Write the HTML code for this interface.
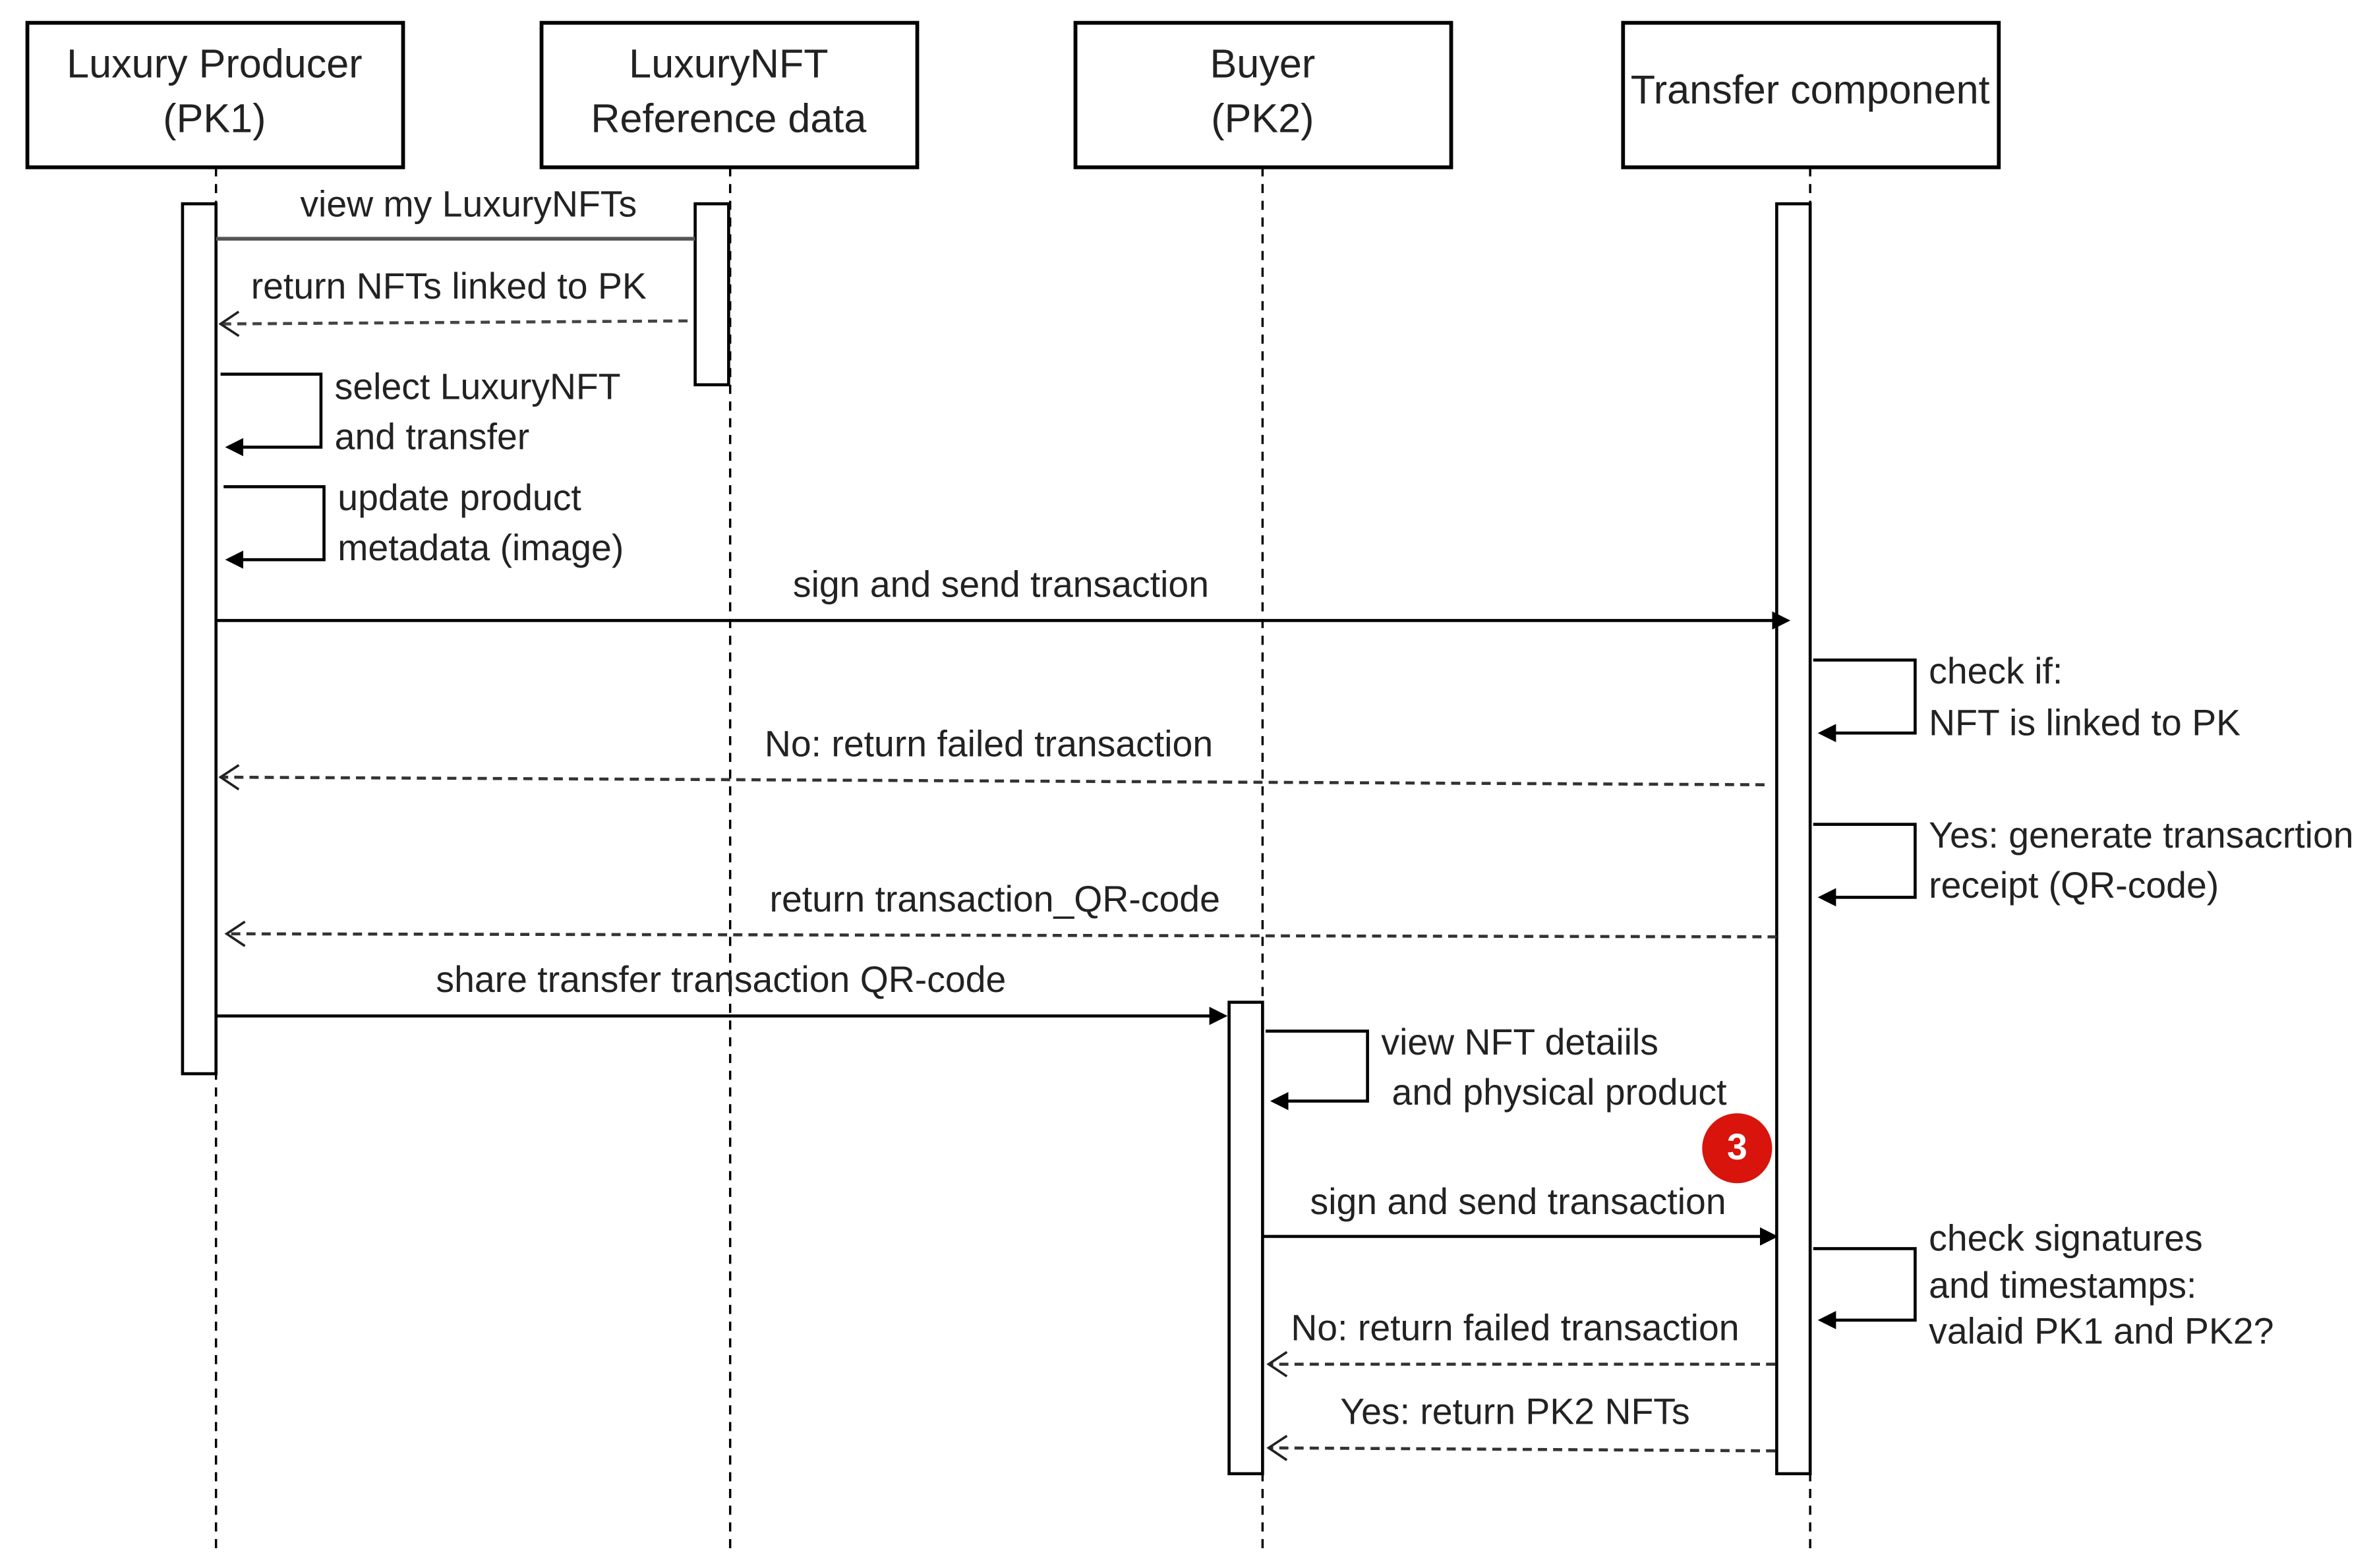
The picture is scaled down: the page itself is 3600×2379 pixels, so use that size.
<!DOCTYPE html>
<html><head><meta charset="utf-8"><style>
html,body{margin:0;padding:0;background:#fff;}
svg{display:block;}
text{font-family:"Liberation Sans",Arial,sans-serif;fill:#222;dominant-baseline:middle;}
.h{font-size:26.5px;text-anchor:middle;}
.l{font-size:24px;}
.c{text-anchor:middle;}
</style></head><body>
<svg width="3600" height="2379" viewBox="0 0 1560 1031" preserveAspectRatio="none" xmlns="http://www.w3.org/2000/svg">
<defs>
<marker id="f" markerWidth="12" markerHeight="12" refX="10" refY="6" orient="auto" markerUnits="userSpaceOnUse"><path d="M0,0 L12,6 L0,12 z" fill="#000"/></marker>
<marker id="o" markerWidth="16" markerHeight="20" refX="13" refY="9" orient="auto" markerUnits="userSpaceOnUse"><path d="M1,1 L13,9 L1,17" fill="none" stroke="#222" stroke-width="1.6"/></marker>
</defs>
<g fill="#fff" stroke="#000" stroke-width="2.5">
<rect x="18" y="15" width="247" height="95"/>
<rect x="356" y="15" width="247" height="95"/>
<rect x="707" y="15" width="247" height="95"/>
<rect x="1067" y="15" width="247" height="95"/>
</g>
<text class="h" x="141" y="44">Luxury Producer</text>
<text class="h" x="141" y="80">(PK1)</text>
<text class="h" x="479" y="44">LuxuryNFT</text>
<text class="h" x="479" y="80">Reference data</text>
<text class="h" x="830" y="44">Buyer</text>
<text class="h" x="830" y="80">(PK2)</text>
<text class="h" x="1190" y="61">Transfer component</text>
<g stroke="#000" stroke-width="1.5" stroke-dasharray="6,5">
<line x1="142" y1="110" x2="142" y2="1020"/>
<line x1="480" y1="110" x2="480" y2="1020"/>
<line x1="830" y1="110" x2="830" y2="1020"/>
<line x1="1190" y1="110" x2="1190" y2="1020"/>
</g>
<g fill="#fff" stroke="#000" stroke-width="2">
<rect x="120" y="134" width="22" height="572"/>
<rect x="457" y="134" width="22" height="119"/>
<rect x="808" y="659" width="22" height="310"/>
<rect x="1168" y="134" width="22" height="835"/>
</g>
<g fill="none" stroke="#000" stroke-width="2">
<line x1="142" y1="157" x2="457" y2="157" stroke="#555" stroke-width="2.5"/>
<line x1="452" y1="211" x2="145" y2="213" stroke="#444" stroke-dasharray="6,4" marker-end="url(#o)"/>
<polyline points="145,246 211,246 211,294 150,294" marker-end="url(#f)"/>
<polyline points="147,320 213,320 213,368 150,368" marker-end="url(#f)"/>
<line x1="142" y1="408" x2="1175" y2="408" marker-end="url(#f)"/>
<polyline points="1192,434 1259,434 1259,482 1197,482" marker-end="url(#f)"/>
<line x1="1160" y1="516" x2="145" y2="511" stroke="#333" stroke-dasharray="6,4" marker-end="url(#o)"/>
<polyline points="1192,542 1259,542 1259,590 1197,590" marker-end="url(#f)"/>
<line x1="1168" y1="616" x2="149" y2="614" stroke="#333" stroke-dasharray="6,4" marker-end="url(#o)"/>
<line x1="142" y1="668" x2="805" y2="668" marker-end="url(#f)"/>
<polyline points="832,678 899,678 899,724 837,724" marker-end="url(#f)"/>
<line x1="830" y1="813" x2="1167" y2="813" marker-end="url(#f)"/>
<polyline points="1192,821 1259,821 1259,868 1197,868" marker-end="url(#f)"/>
<line x1="1167" y1="897" x2="834" y2="897" stroke="#333" stroke-dasharray="6,4" marker-end="url(#o)"/>
<line x1="1167" y1="954" x2="834" y2="952" stroke="#333" stroke-dasharray="6,4" marker-end="url(#o)"/>
</g>
<text class="l c" x="308" y="136">view my LuxuryNFTs</text>
<text class="l c" x="295" y="190">return NFTs linked to PK</text>
<text class="l" x="220" y="256">select LuxuryNFT</text>
<text class="l" x="220" y="289">and transfer</text>
<text class="l" x="222" y="329">update product</text>
<text class="l" x="222" y="362">metadata (image)</text>
<text class="l c" x="658" y="386">sign and send transaction</text>
<text class="l" x="1268" y="443">check if:</text>
<text class="l" x="1268" y="477">NFT is linked to PK</text>
<text class="l c" x="650" y="491">No: return failed transaction</text>
<text class="l" x="1268" y="551">Yes: generate transacrtion</text>
<text class="l" x="1268" y="584">receipt (QR-code)</text>
<text class="l c" x="654" y="593">return transaction_QR-code</text>
<text class="l c" x="474" y="646">share transfer transaction QR-code</text>
<text class="l" x="908" y="687">view NFT detaiils</text>
<text class="l" x="915" y="720">and physical product</text>
<text class="l c" x="998" y="792">sign and send transaction</text>
<text class="l" x="1268" y="816">check signatures</text>
<text class="l" x="1268" y="847">and timestamps:</text>
<text class="l" x="1268" y="877">valaid PK1 and PK2?</text>
<text class="l c" x="996" y="875">No: return failed transaction</text>
<text class="l c" x="996" y="930">Yes: return PK2 NFTs</text>
<circle cx="1142" cy="755" r="23" fill="#d8140c"/>
<text x="1142" y="756" style="font-size:24px;font-weight:bold;fill:#fff;text-anchor:middle;">3</text>
</svg>
</body></html>
